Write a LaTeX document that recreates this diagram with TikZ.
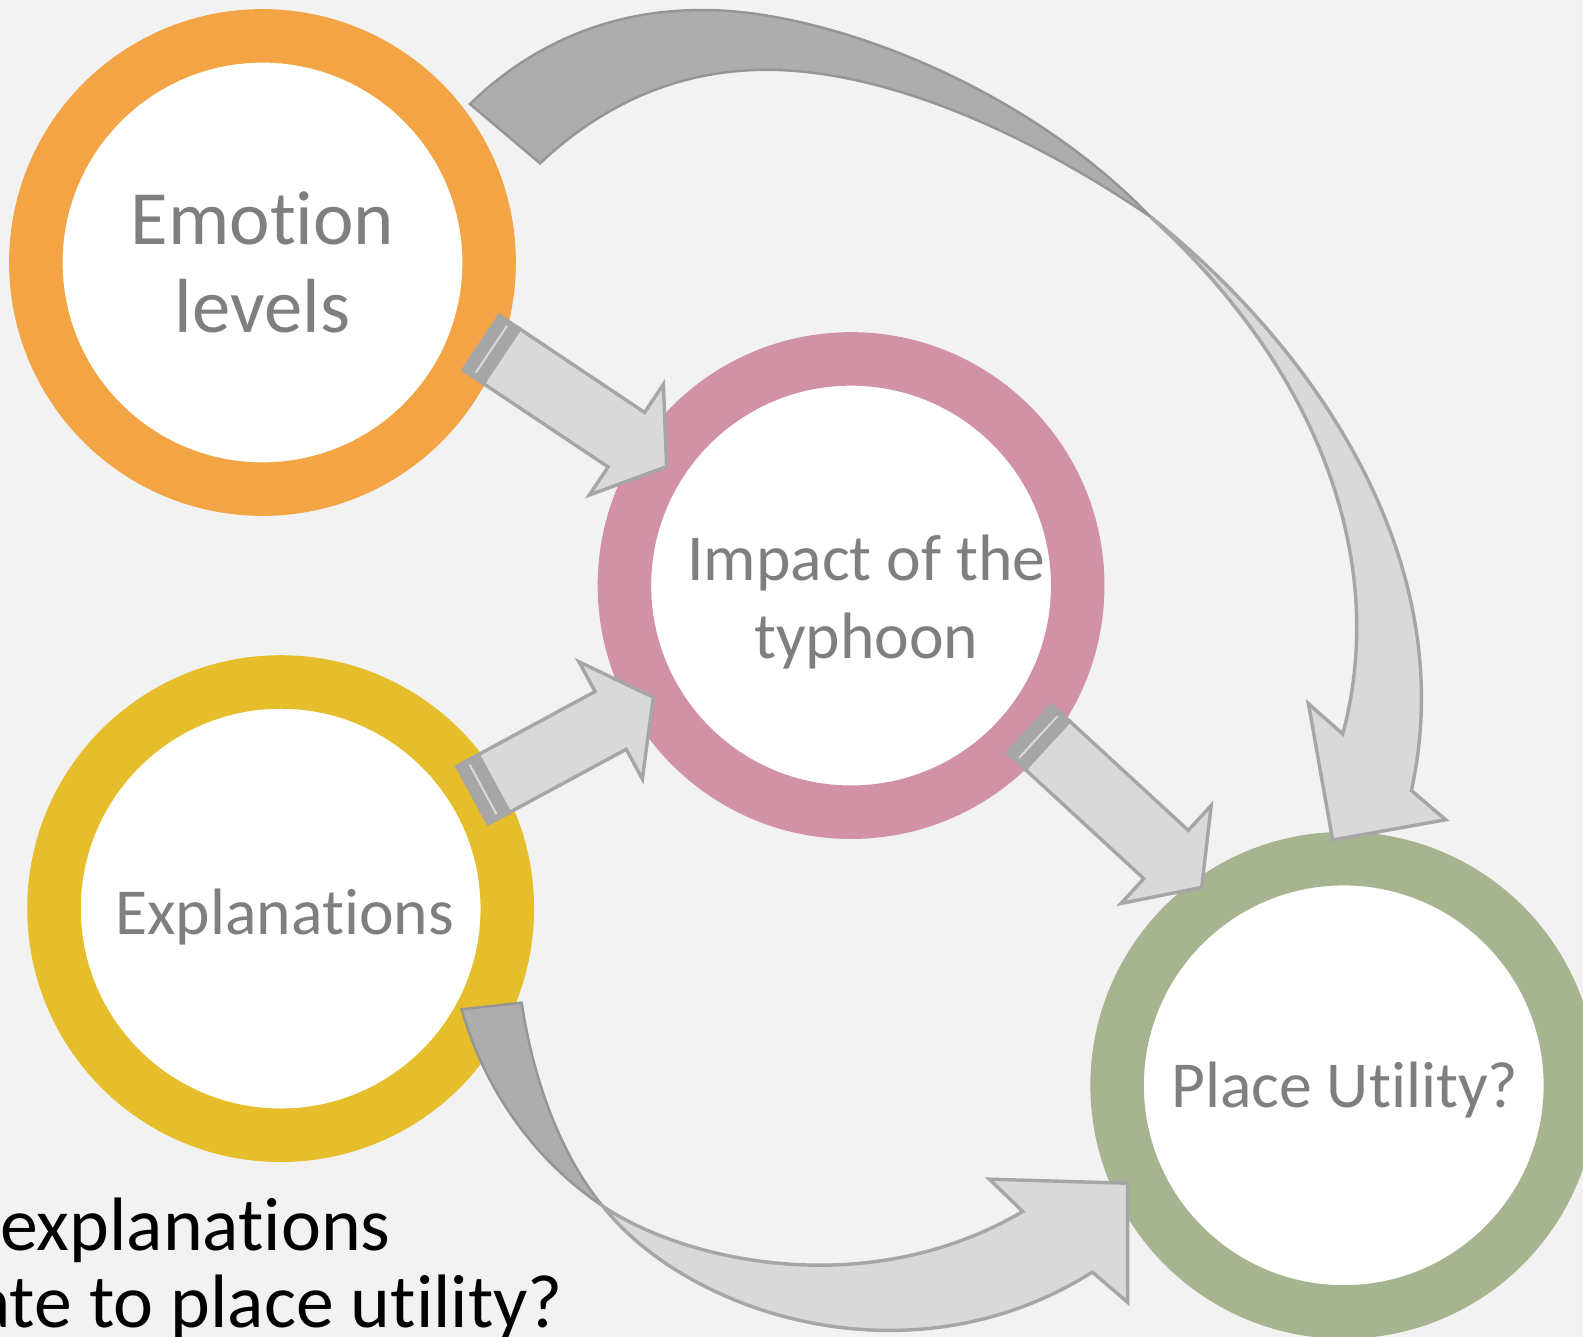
\documentclass[tikz,border=0pt]{standalone}
\usepackage{fontspec}
\setmainfont{Carlito}[Ligatures={NoCommon,NoRequired,NoContextual}, RawFeature={-liga;-clig}]
\usetikzlibrary{calc}

\definecolor{bgcol}{HTML}{F2F2F2}
\definecolor{emocol}{HTML}{F3A546}
\definecolor{impcol}{HTML}{D192A6}
\definecolor{explcol}{HTML}{E6BD2A}
\definecolor{pucol}{HTML}{A6B590}
\definecolor{txtcol}{HTML}{7F7F7F}
\definecolor{facecol}{HTML}{D9D9D9}
\definecolor{backcol}{HTML}{ADADAD}
\definecolor{edgecol}{HTML}{A6A6A6}

\tikzset{
  ring/.style={circle, fill=white, line width=26.5pt, minimum size=224.5pt, inner sep=0pt},
  lbl/.style={text=txtcol, align=center},
  face/.style={fill=facecol, draw=edgecol, line width=1.7pt, line join=miter},
  backface/.style={fill=backcol, draw=edgecol!90!black, line width=1.2pt, line join=miter},
  band/.style={fill=edgecol, draw=edgecol, line width=1.7pt},
  stripe/.style={draw=facecol, line width=1pt}
}

% striped block arrow: name, tail, tip
\newcommand{\stripedarrow}[3]{%
  \coordinate (#1s) at ($(#2)!12pt!(#3)$);
  \coordinate (#1m) at ($(#2)!6pt!(#3)$);
  \coordinate (#1b) at ($(#3)!24pt!(#2)$);
  \draw[face] ($(#1s)!16.25pt!90:(#3)$) -- ($(#1b)!16.25pt!90:(#3)$)
    -- ($(#1b)!33pt!90:(#3)$) -- (#3) -- ($(#1b)!33pt!-90:(#3)$)
    -- ($(#1b)!16.25pt!-90:(#3)$) -- ($(#1s)!16.25pt!-90:(#3)$) -- cycle;
  \draw[band] ($(#2)!16.25pt!90:(#3)$) -- ($(#1s)!16.25pt!90:(#3)$)
    -- ($(#1s)!16.25pt!-90:(#3)$) -- ($(#2)!16.25pt!-90:(#3)$) -- cycle;
  \draw[stripe] ($(#1m)!14pt!90:(#3)$) -- ($(#1m)!14pt!-90:(#3)$);
}

\begin{document}
\begin{tikzpicture}[x=0.5pt, y=-0.5pt]
  \useasboundingbox (0,0) rectangle (1568,1324);
  \fill[bgcol] (0,0) rectangle (1568,1324);
  \clip (0,0) rectangle (1568,1324);

  % rings
  \foreach \n/\c/\x/\y in {emo/emocol/260/260, imp/impcol/843/580,
                           expl/explcol/278/900, pu/pucol/1331/1075}
    \node[ring, draw=\c] (\n) at (\x,\y) {};

  % ring texts
  \node[lbl, font=\fontsize{38}{43.5}\selectfont] (emo-l) at (260,260) {Emotion\\levels};
  \node[lbl, font=\fontsize{32.5}{38.5}\selectfont] (imp-l) at (858,596) {Impact of the\\typhoon};
  \node[lbl, font=\fontsize{32.5}{39}\selectfont] (expl-l) at (282,908) {Explanations};
  \node[lbl, font=\fontsize{32.5}{39}\selectfont] (pu-l) at (1332,1080) {Place Utility?};

  % straight arrows
  \coordinate (a1t) at ($(emo)+(216.7,79.4)$);
  \coordinate (a1h) at ($(imp)+(-182.7,-117.8)$);
  \stripedarrow{a1}{a1t}{a1h}
  \coordinate (a2t) at ($(expl)+(190,-112.4)$);
  \coordinate (a2h) at ($(imp)+(-195.9,110.7)$);
  \stripedarrow{a2}{a2t}{a2h}
  \coordinate (a3t) at ($(imp)+(176.7,141.8)$);
  \coordinate (a3h) at ($(pu)+(-140.7,-196.1)$);
  \stripedarrow{a3}{a3t}{a3h}

  % curved arrow over the top
  \draw[backface] (465.5,103) .. controls (530,40) and (610,10) .. (693,10)
    .. controls (810,8) and (1010,80) .. (1140,215)
    .. controls (1000,120) and (860,66) .. (749.5,69.3)
    .. controls (660,72) and (590,110) .. (534.9,161.8) -- cycle;
  \draw[face] (1140,215) .. controls (1320,360) and (1445,570) .. (1398,783)
    -- (1432,812) -- (1320,832) -- (1296,697) -- (1330,727)
    .. controls (1375,560) and (1310,370) .. (1140,215) -- cycle;

  % curved arrow along the bottom
  \draw[backface] (457.3,999.7) .. controls (480,1080) and (530,1150) .. (597.6,1195.2)
    .. controls (560,1150) and (530,1080) .. (516.7,993.2) -- cycle;
  \draw[face] (597.6,1195.2) .. controls (680,1250) and (860,1290) .. (1013,1200)
    -- (980,1168) -- (1117,1172) -- (1117,1290) -- (1082,1260)
    .. controls (900,1375) and (680,1300) .. (597.6,1195.2) -- cycle;

  % question text
  \node[anchor=base west, inner sep=0pt, font=\fontsize{37.5}{45}\selectfont] (q1) at (0,1239) {explanations};
  \node[anchor=base west, inner sep=0pt, font=\fontsize{37.5}{45}\selectfont] (q2) at (-26,1315) {ate to place utility?};
\end{tikzpicture}
\end{document}
